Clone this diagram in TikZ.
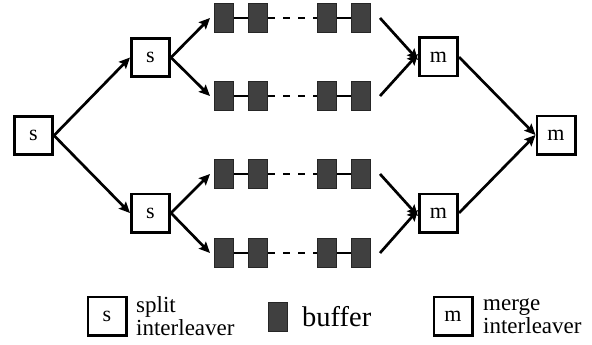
\documentclass[tikz,border=0pt]{standalone}
\usepackage{fontspec}
\setmainfont{Liberation Serif}
\usetikzlibrary{arrows.meta}
\begin{document}
\begin{tikzpicture}[x=1pt,y=-1pt,
  il/.style={draw=black,line width=2.8pt,fill=white,minimum size=38.2pt,inner sep=0pt,font=\fontsize{22}{24}\selectfont},
  buf/.style={draw=black!85,line width=0.8pt,fill=black!75,minimum width=19.2pt,minimum height=29.2pt,inner sep=0pt},
  arr/.style={line width=2.7pt,-{Stealth[length=11pt,width=10pt,inset=2pt]}},
  link/.style={line width=1.3pt},
  dotlink/.style={line width=1.3pt,dash pattern=on 7pt off 8pt},
  legtext/.style={font=\fontsize{23}{23}\selectfont,align=left,inner sep=0pt}]
\useasboundingbox (0,0) rectangle (592,345);
% interleavers
\node[il] (s0) at (33.5,135.5) {s};
\node[il] (s1) at (150.5,57.5) {s};
\node[il] (s2) at (150.5,213) {s};
\node[il] (m1) at (438.5,57) {m};
\node[il] (m2) at (438.5,213) {m};
\node[il] (m3) at (556,135) {m};
% buffer rows
\foreach \r/\y in {1/18,2/96,3/174,4/253}{
  \node[buf] (b\r1) at (224,\y) {};
  \node[buf] (b\r2) at (258,\y) {};
  \node[buf] (b\r3) at (327,\y) {};
  \node[buf] (b\r4) at (361,\y) {};
  \draw[link] (b\r1.east) -- (b\r2.west);
  \draw[dotlink] (b\r2.east) -- (b\r3.west);
  \draw[link] (b\r3.east) -- (b\r4.west);
}
% arrows
\draw[arr] (s0.east) -- (s1.west);
\draw[arr] (s0.east) -- (s2.west);
\draw[arr] (s1.east) -- ([xshift=-4pt]b11.west);
\draw[arr] (s1.east) -- ([xshift=-4pt]b21.west);
\draw[arr] (s2.east) -- ([xshift=-4pt]b31.west);
\draw[arr] (s2.east) -- ([xshift=-4pt]b41.west);
\draw[arr] ([xshift=9pt]b14.east) -- ([yshift=-3pt]m1.west);
\draw[arr] ([xshift=9pt]b24.east) -- ([yshift=3pt]m1.west);
\draw[arr] ([xshift=9pt]b34.east) -- ([yshift=-3pt]m2.west);
\draw[arr] ([xshift=9pt]b44.east) -- ([yshift=3pt]m2.west);
\draw[arr] (m1.east) -- (m3.west);
\draw[arr] (m2.east) -- (m3.west);
% legend
\node[il] (ls) at (107,316) {s};
\node[legtext,anchor=west] (lst) at (136,316) {split\\interleaver};
\node[buf] (lb) at (277.5,316.5) {};
\node[anchor=base west,inner sep=0pt,font=\fontsize{28.5}{30}\selectfont] (lbt) at (302,326) {buffer};
\node[il] (lm) at (453,316) {m};
\node[legtext,anchor=west] (lmt) at (483,316) {merge\\interleaver};
\end{tikzpicture}
\end{document}
